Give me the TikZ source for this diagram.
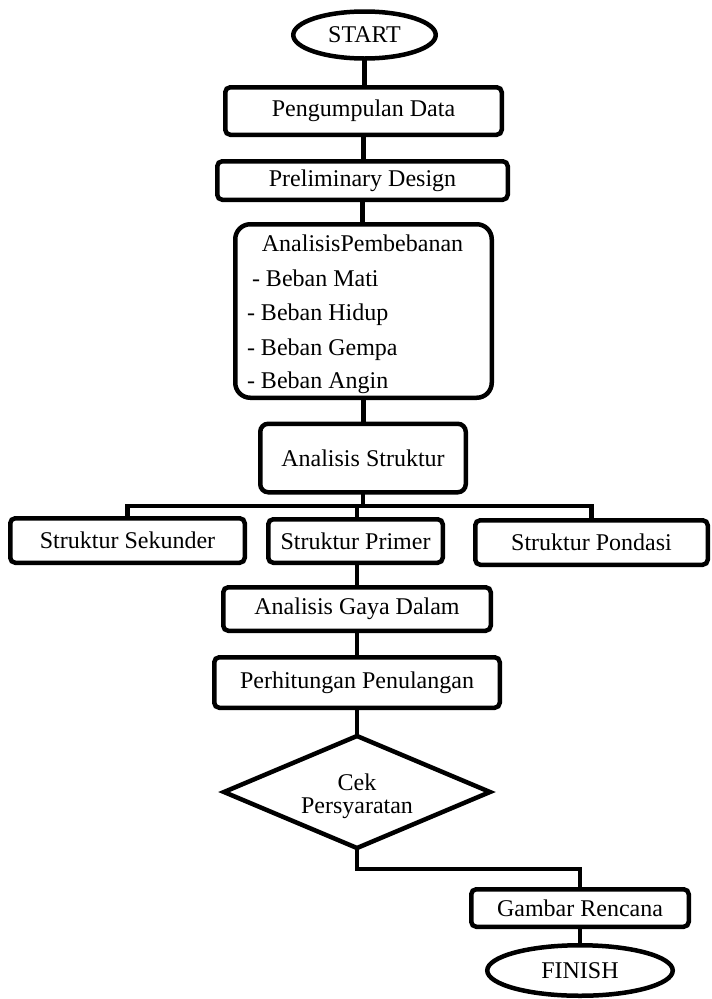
\documentclass[tikz,border=0pt]{standalone}
\usepackage{fontspec}
\setmainfont{Liberation Serif}
\usetikzlibrary{shapes.geometric}
\begin{document}
\begin{tikzpicture}[x=1pt,y=-1pt,line width=4.5pt,
  every node/.style={font=\fontsize{24}{23}\selectfont,inner sep=0pt,outer sep=0pt},
  box/.style={draw,rectangle,rounded corners=5pt},
  term/.style={draw,ellipse},
  txt/.style={anchor=base west}]
\useasboundingbox (0,0) rectangle (712,999);
% nodes
\node[term,minimum width=142.5pt,minimum height=47pt] (start) at (364.5,35) {START};
\node[box,minimum width=276.5pt,minimum height=47.5pt] (peng) at (363.5,111) {Pengumpulan Data};
\node[box,minimum width=290.5pt,minimum height=38.5pt] (prel) at (362.5,180.5) {Preliminary Design};
\node[box,rounded corners=15pt,minimum width=256.5pt,minimum height=173.5pt] (pemb) at (363.5,311) {};
\node[anchor=base] (pembt) at (362.5,251) {AnalisisPembebanan};
\node[txt] (l1) at (252,286) {- Beban Mati};
\node[txt] (l2) at (247,320) {- Beban Hidup};
\node[txt] (l3) at (247,355) {- Beban Gempa};
\node[txt] (l4) at (247,388) {- Beban Angin};
\node[box,rounded corners=8pt,minimum width=205.5pt,minimum height=68.5pt] (struk) at (363,458) {Analisis Struktur};
\node[box,minimum width=234.5pt,minimum height=44.5pt] (sek) at (127.5,540.5) {Struktur Sekunder};
\node[box,minimum width=174.5pt,minimum height=43.5pt] (prim) at (355.5,541) {Struktur Primer};
\node[box,minimum width=232.5pt,minimum height=44.5pt] (pond) at (591.5,542.5) {Struktur Pondasi};
\node[box,minimum width=267.5pt,minimum height=43.5pt] (gaya) at (357,609) {Analisis Gaya Dalam};
\node[box,minimum width=285.5pt,minimum height=50.5pt] (perh) at (357,682.5) {Perhitungan Penulangan};
\node[draw,diamond,minimum width=266pt,minimum height=112pt] (cek) at (357,792) {};
\node[align=center] (cekt) at (357,796) {Cek\\Persyaratan};
\node[box,minimum width=217.5pt,minimum height=37.5pt] (gam) at (580,908) {Gambar Rencana};
\node[term,minimum width=185.5pt,minimum height=50.5pt] (fin) at (580,970.5) {FINISH};
\coordinate (br) at (363,506);
\coordinate (bend) at (357,869);
% connectors
\draw (start.south) -- (start.south |- peng.north);
\draw (peng.south) -- (peng.south |- prel.north);
\draw (prel.south) -- (prel.south |- pemb.north);
\draw (pemb.south) -- (pemb.south |- struk.north);
\draw (struk.south) -- (br);
\draw (sek.north) |- (br) -| (pond.north);
\draw (prim.north -| gaya.north) -- (br -| gaya.north);
\draw (gaya.north) -- (gaya.north |- prim.south);
\draw (gaya.south) -- (perh.north);
\draw (perh.south) -- (cek.north);
\draw (cek.south) -- (bend) -| (gam.north);
\draw (gam.south) -- (fin.north);
\end{tikzpicture}
\end{document}
